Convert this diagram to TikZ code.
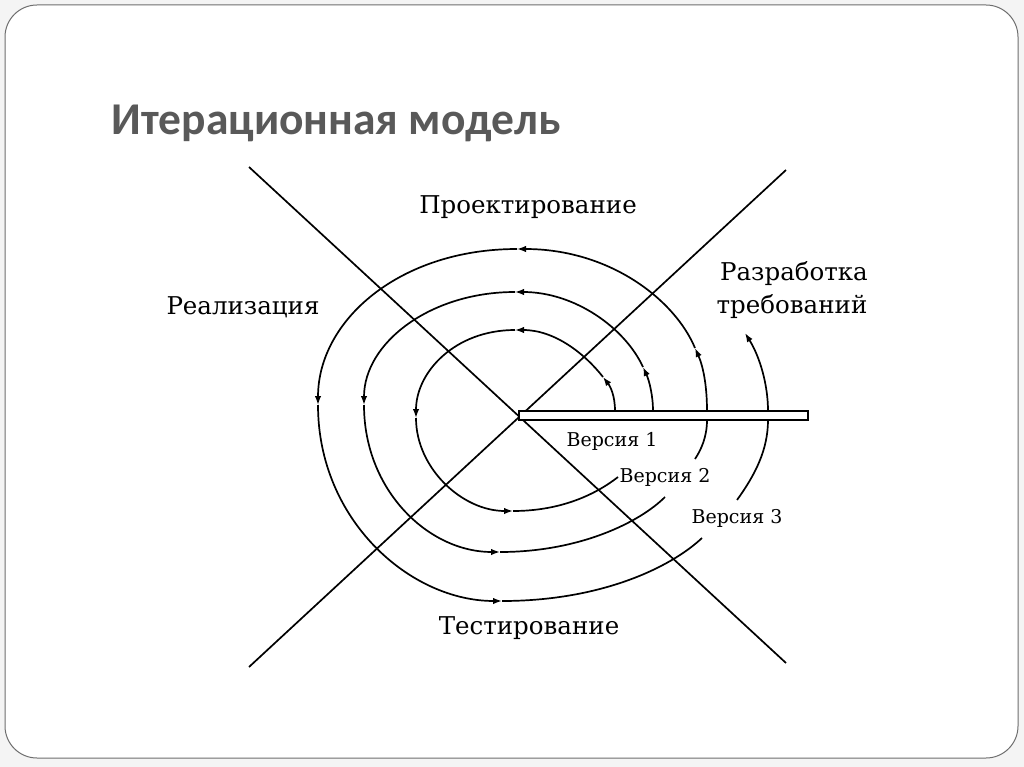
\documentclass[tikz,border=0pt]{standalone}
\usepackage{fontspec}
\setmainfont{DejaVu Serif}
\newfontfamily\titlefont{Carlito}
\usetikzlibrary{arrows.meta}
\definecolor{titlegray}{RGB}{89,89,89}
\definecolor{framegray}{RGB}{110,110,110}
\definecolor{bggray}{RGB}{244,244,244}
\begin{document}
\begin{tikzpicture}[x=1pt,y=-1pt,
  curve/.style={line width=1.7pt,black},
  arr/.style={curve,-{Latex[length=9pt,width=6.5pt]}},
  axis/.style={line width=1.7pt,black},
  lbl/.style={inner sep=0pt,anchor=base,font=\fontsize{24.5}{28}\selectfont},
  ver/.style={inner sep=0pt,anchor=base,font=\fontsize{19}{22}\selectfont}]
\useasboundingbox (0,0) rectangle (1024,767);
\fill[bggray] (0,0) rectangle (1024,767);
\draw[framegray,fill=white,line width=1pt,rounded corners=32pt] (5,5) rectangle (1018,758);
\node[inner sep=0pt,anchor=base,text=titlegray,font=\titlefont\bfseries\fontsize{45.5}{50}\selectfont] (title) at (336,135) {Итерационная модель};
% axes
\coordinate (c) at (519,415);
\coordinate (nw) at (249,167);
\coordinate (se) at (786,663);
\coordinate (ne) at (786,170);
\coordinate (sw) at (249,667);
\draw[axis] (nw) -- (se);
\draw[axis] (ne) -- (sw);
% loop 1
\coordinate (a1) at (615,411); \coordinate (b1) at (603,377); \coordinate (t1) at (515,330);
\coordinate (l1) at (416,418); \coordinate (u1) at (513,511); \coordinate (e1) at (618,477);
\draw[arr] (a1) .. controls (615,395) and (610,386) .. (b1);
\draw[arr] (b1) .. controls (585,354) and (555,330) .. (t1);
\draw[arr] (t1) .. controls (455,330) and (416,372) .. (l1);
\draw[arr] (l1) .. controls (416,468) and (462,511) .. (u1);
\draw[curve] (u1) .. controls (560,511) and (595,495) .. (e1);
% loop 2
\coordinate (a2) at (653,411); \coordinate (b2) at (643,367); \coordinate (t2) at (515,292);
\coordinate (l2) at (364,405); \coordinate (u2) at (500,552); \coordinate (e2) at (665,497);
\draw[arr] (a2) .. controls (653,395) and (649,380) .. (b2);
\draw[arr] (b2) .. controls (625,328) and (575,292) .. (t2);
\draw[arr] (t2) .. controls (430,292) and (364,343) .. (l2);
\draw[arr] (l2) .. controls (364,490) and (428,552) .. (u2);
\draw[curve] (u2) .. controls (580,552) and (640,522) .. (e2);
% loop 3
\coordinate (a3) at (707,411); \coordinate (b3) at (695,348); \coordinate (t3) at (517,249);
\coordinate (l3) at (318,405); \coordinate (u3) at (502,601); \coordinate (e3) at (702,538);
\draw[arr] (a3) .. controls (707,385) and (703,366) .. (b3);
\draw[arr] (b3) .. controls (675,300) and (610,249) .. (t3);
\draw[arr] (t3) .. controls (400,249) and (318,320) .. (l3);
\draw[arr] (l3) .. controls (318,520) and (410,601) .. (u3);
\draw[curve] (u3) .. controls (600,601) and (670,568) .. (e3);
% continuation pieces
\coordinate (g2) at (695,459); \coordinate (h2) at (707,420);
\draw[curve] (g2) .. controls (701,450) and (707,437) .. (h2);
\coordinate (g3) at (737,500); \coordinate (h3) at (768,420);
\draw[curve] (g3) .. controls (755,475) and (768,450) .. (h3);
\coordinate (a4) at (768,411); \coordinate (b4) at (745,333);
\draw[arr] (a4) .. controls (768,385) and (760,357) .. (b4);
% bar
\draw[line width=1.6pt,fill=white] (519,411) rectangle (808,420);
% labels
\node[lbl] (proj) at (528,214) {Проектирование};
\node[lbl] (razr) at (794,280) {Разработка};
\node[lbl] (treb) at (792,313) {требований};
\node[lbl] (real) at (243,314) {Реализация};
\node[lbl] (test) at (529,634) {Тестирование};
\node[ver] (v1) at (612,446) {Версия 1};
\node[ver] (v2) at (665,482) {Версия 2};
\node[ver] (v3) at (737,523) {Версия 3};
\end{tikzpicture}
\end{document}
